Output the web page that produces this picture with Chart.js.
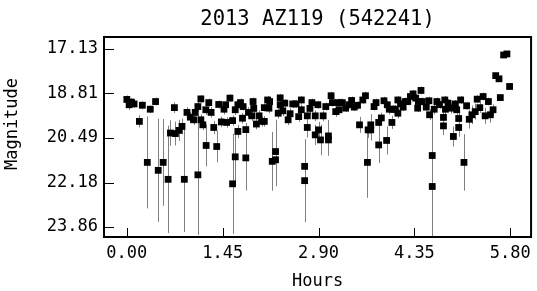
<!DOCTYPE html>
<html>
<head>
<meta charset="utf-8">
<script src="https://cdn.jsdelivr.net/npm/chart.js@4.4.1/dist/chart.umd.min.js"></script>
<style>
  html, body { margin: 0; padding: 0; background: #fff; }
  #wrap { width: 537px; height: 291px; }
</style>
</head>
<body>
<div id="wrap"><canvas id="grafico" width="537" height="291"></canvas></div>
<script>
const titulo = "2013 AZ119 (542241)";
const xTicks = [0.00, 1.45, 2.90, 4.35, 5.80];
const yTicks = [17.13, 18.81, 20.49, 22.18, 23.86];

// hours, magnitude and error
const hours = [
  0.00, 0.035, 0.07, 0.11, 0.19, 0.235, 0.31, 0.355, 0.435, 0.475,
  0.55, 0.625, 0.66, 0.72, 0.735, 0.79, 0.835, 0.87, 0.91, 0.96,
  1.01, 1.035, 1.075, 1.075, 1.12, 1.12, 1.15, 1.195, 1.20, 1.24,
  1.275, 1.315, 1.36, 1.39, 1.43, 1.47, 1.495, 1.51,
  1.56, 1.60, 1.60, 1.64, 1.64, 1.68, 1.68, 1.72, 1.75, 1.76,
  1.80, 1.80, 1.84, 1.89, 1.91, 1.92, 1.96, 2.00, 2.04, 2.08,
  2.08, 2.13, 2.15, 2.16, 2.20, 2.25, 2.25, 2.29, 2.32, 2.32,
  2.36, 2.39, 2.44, 2.47, 2.51, 2.56, 2.60, 2.64, 2.64, 2.69,
  2.69, 2.73, 2.73, 2.77, 2.80, 2.85, 2.85, 2.89, 2.90, 2.93,
  2.97, 3.01, 3.05, 3.05, 3.09, 3.11, 3.16, 3.20, 3.21, 3.26,
  3.31, 3.36, 3.40, 3.44, 3.49, 3.52, 3.57, 3.61, 3.64, 3.65,
  3.69, 3.69, 3.74, 3.77, 3.81, 3.81, 3.85, 3.89, 3.93, 3.94,
  3.97, 4.01, 4.02, 4.06, 4.10, 4.10, 4.14, 4.18, 4.21, 4.25,
  4.29, 4.33, 4.37, 4.40, 4.41, 4.45, 4.47, 4.53, 4.57, 4.58,
  4.62, 4.62, 4.65, 4.69, 4.73, 4.79, 4.79, 4.81, 4.82, 4.86,
  4.90, 4.94, 4.97, 4.99, 5.02, 5.02, 5.05, 5.10, 5.14, 5.18,
  5.22, 5.27, 5.30, 5.34, 5.39, 5.42, 5.47, 5.50, 5.54, 5.58,
  5.63, 5.65, 5.70, 5.75, 5.79
];
const mags = [
  19.04, 19.24, 19.14, 19.21, 19.87, 19.26, 21.42, 19.41, 19.12, 21.72,
  21.42, 22.06, 20.31, 19.35, 20.33, 20.21, 20.06, 22.06, 19.53, 19.71,
  19.81, 19.53, 19.31, 21.89, 19.02, 19.81, 20.00, 19.43, 20.78, 19.16,
  19.53, 20.10, 20.82, 19.23, 19.89, 19.41, 19.24, 19.91,
  18.99, 19.84, 22.23, 19.43, 21.21, 20.25, 19.24, 19.16, 19.75, 19.31,
  20.18, 21.25, 19.53, 19.66, 19.12, 19.38, 19.97, 19.66, 19.87, 19.87,
  19.35, 19.06, 19.37, 19.12, 21.38, 21.01, 21.32, 19.56, 18.98, 19.24,
  19.47, 19.18, 19.81, 19.58, 19.21, 19.21, 19.69, 19.06, 19.43, 21.57,
  22.11, 19.66, 20.10, 19.38, 19.16, 19.66, 20.38, 19.24, 20.19, 20.57,
  19.66, 19.31, 20.42, 20.57, 18.90, 19.16, 19.50, 19.16, 19.43, 19.16,
  19.37, 19.24, 19.08, 19.33, 19.26, 20.00, 19.06, 18.90, 21.42, 20.19,
  20.00, 20.19, 19.31, 19.16, 19.91, 20.76, 19.74, 19.09, 20.59, 19.24,
  19.41, 19.91, 19.41, 19.41, 19.06, 19.56, 19.21, 19.33, 19.12, 19.12,
  18.93, 18.83, 18.99, 19.37, 19.12, 18.70, 19.12, 19.33, 19.09, 19.62,
  21.16, 22.33, 19.41, 19.12, 19.24, 19.72, 20.04, 19.06, 19.41, 19.18,
  19.37, 20.44, 19.21, 19.43, 19.76, 20.10, 19.06, 21.42, 19.28, 19.79,
  19.62, 19.50, 19.03, 19.35, 18.93, 19.66, 19.12, 19.62, 19.43, 18.14,
  18.26, 18.97, 17.36, 17.32, 18.55
];
const errs = [
  0.15, 0.20, 0.15, 0.15, 0.23, 0.15, 1.74, 0.15, 0.15, 1.95,
  1.64, 2.03, 0.48, 0.20, 0.45, 0.40, 0.30, 1.99, 0.20, 0.20,
  0.20, 0.15, 0.20, 2.27, 0.15, 0.20, 0.20, 0.20, 0.79, 0.15,
  0.20, 0.25, 0.60, 0.15, 0.20, 0.20, 0.15, 0.20,
  0.15, 0.20, 1.89, 0.20, 0.94, 0.25, 0.15, 0.15, 0.20, 0.15,
  0.25, 1.23, 0.20, 0.20, 0.15, 0.20, 0.20, 0.20, 0.20, 0.20,
  0.15, 0.15, 0.20, 0.15, 1.11, 1.20, 1.00, 0.20, 0.15, 0.15,
  0.20, 0.15, 0.20, 0.20, 0.15, 0.15, 0.20, 0.15, 0.20, 1.00,
  1.57, 0.20, 0.38, 0.20, 0.15, 0.20, 0.38, 0.15, 0.30, 0.58,
  0.20, 0.15, 0.60, 0.60, 0.15, 0.15, 0.20, 0.15, 0.20, 0.15,
  0.15, 0.15, 0.15, 0.15, 0.15, 0.30, 0.15, 0.15, 1.34, 0.30,
  0.40, 0.40, 0.15, 0.15, 0.20, 0.68, 0.20, 0.15, 0.53, 0.15,
  0.20, 0.25, 0.15, 0.15, 0.15, 0.20, 0.15, 0.15, 0.15, 0.15,
  0.15, 0.15, 0.15, 0.15, 0.15, 0.15, 0.15, 0.15, 0.15, 0.20,
  1.50, 2.75, 0.20, 0.15, 0.15, 0.30, 0.35, 0.15, 0.20, 0.15,
  0.20, 0.38, 0.15, 0.20, 0.30, 0.35, 0.15, 1.07, 0.15, 0.35,
  0.35, 0.30, 0.15, 0.20, 0.15, 0.30, 0.15, 0.30, 0.20, 0.10,
  0.10, 0.10, 0.10, 0.10, 0.10
];

const fonte = "'DejaVu Sans Mono', monospace";

const moldura = {
  id: "moldura",
  beforeDatasetsDraw(chart) {
    const { ctx, chartArea, scales } = chart;
    ctx.save();
    ctx.beginPath();
    ctx.rect(chartArea.left, chartArea.top, chartArea.width, chartArea.height);
    ctx.clip();
    ctx.strokeStyle = "#808080";
    ctx.lineWidth = 1;
    hours.forEach((h, i) => {
      const x = Math.round(scales.x.getPixelForValue(h)) + 0.5;
      ctx.beginPath();
      ctx.moveTo(x, scales.y.getPixelForValue(mags[i] - errs[i]));
      ctx.lineTo(x, scales.y.getPixelForValue(mags[i] + errs[i]));
      ctx.stroke();
    });
    ctx.restore();
  },
  afterDraw(chart) {
    const { ctx, chartArea, scales } = chart;
    const { left, right, top, bottom } = chartArea;
    ctx.save();
    ctx.strokeStyle = "#000";
    ctx.lineWidth = 1;
    // ticks point inward
    yTicks.forEach(v => {
      const y = Math.round(scales.y.getPixelForValue(v)) + 0.5;
      ctx.beginPath();
      ctx.moveTo(left, y);
      ctx.lineTo(left + 10, y);
      ctx.stroke();
    });
    xTicks.forEach(v => {
      const x = Math.round(scales.x.getPixelForValue(v)) + 0.5;
      ctx.beginPath();
      ctx.moveTo(x, bottom);
      ctx.lineTo(x, bottom - 9);
      ctx.stroke();
    });
    ctx.lineWidth = 2;
    ctx.strokeRect(left, top, right - left, bottom - top);

    // y title, a bit above the middle as in the picture
    ctx.fillStyle = "#000";
    ctx.font = "17px " + fonte;
    ctx.textAlign = "center";
    ctx.textBaseline = "middle";
    ctx.translate(13, 124);
    ctx.rotate(-Math.PI / 2);
    ctx.fillText("Magnitude", 0, 0);
    ctx.restore();
  }
};

new Chart(document.getElementById("grafico"), {
  type: "scatter",
  data: {
    datasets: [{
      data: hours.map((h, i) => ({ x: h, y: mags[i] })),
      pointStyle: "rect",
      pointRadius: 4.8,
      pointHoverRadius: 4.8,
      backgroundColor: "#000",
      borderWidth: 0
    }]
  },
  options: {
    responsive: false,
    animation: false,
    events: [],
    layout: { padding: { left: 0, right: 4, top: 0, bottom: 0 } },
    plugins: {
      legend: { display: false },
      tooltip: { enabled: false },
      title: {
        display: true,
        text: titulo,
        color: "#000",
        fullSize: false,
        font: { family: fonte, size: 20.5, weight: "normal", lineHeight: 1.2 },
        padding: { top: 7, bottom: 5.4 }
      }
    },
    scales: {
      x: {
        type: "linear",
        min: -0.345,
        max: 6.115,
        grid: { display: false, drawTicks: false },
        border: { display: false },
        afterBuildTicks: s => { s.ticks = xTicks.map(v => ({ value: v })); },
        afterFit: s => { s.height = 54; },
        ticks: {
          color: "#000",
          padding: 6,
          maxRotation: 0,
          font: { family: fonte, size: 17 },
          callback: v => Number(v).toFixed(2)
        },
        title: {
          display: true,
          text: "Hours",
          color: "#000",
          font: { family: fonte, size: 17, lineHeight: 1 },
          padding: { top: 0, bottom: 1 }
        }
      },
      y: {
        reverse: true,
        min: 16.68,
        max: 24.24,
        grid: { display: false, drawTicks: false },
        border: { display: false },
        afterBuildTicks: s => { s.ticks = yTicks.map(v => ({ value: v })); },
        afterFit: s => { s.width = 104; },
        ticks: {
          color: "#000",
          padding: 6,
          font: { family: fonte, size: 17 },
          callback: v => Number(v).toFixed(2)
        }
      }
    }
  },
  plugins: [moldura]
});
</script>
</body>
</html>
